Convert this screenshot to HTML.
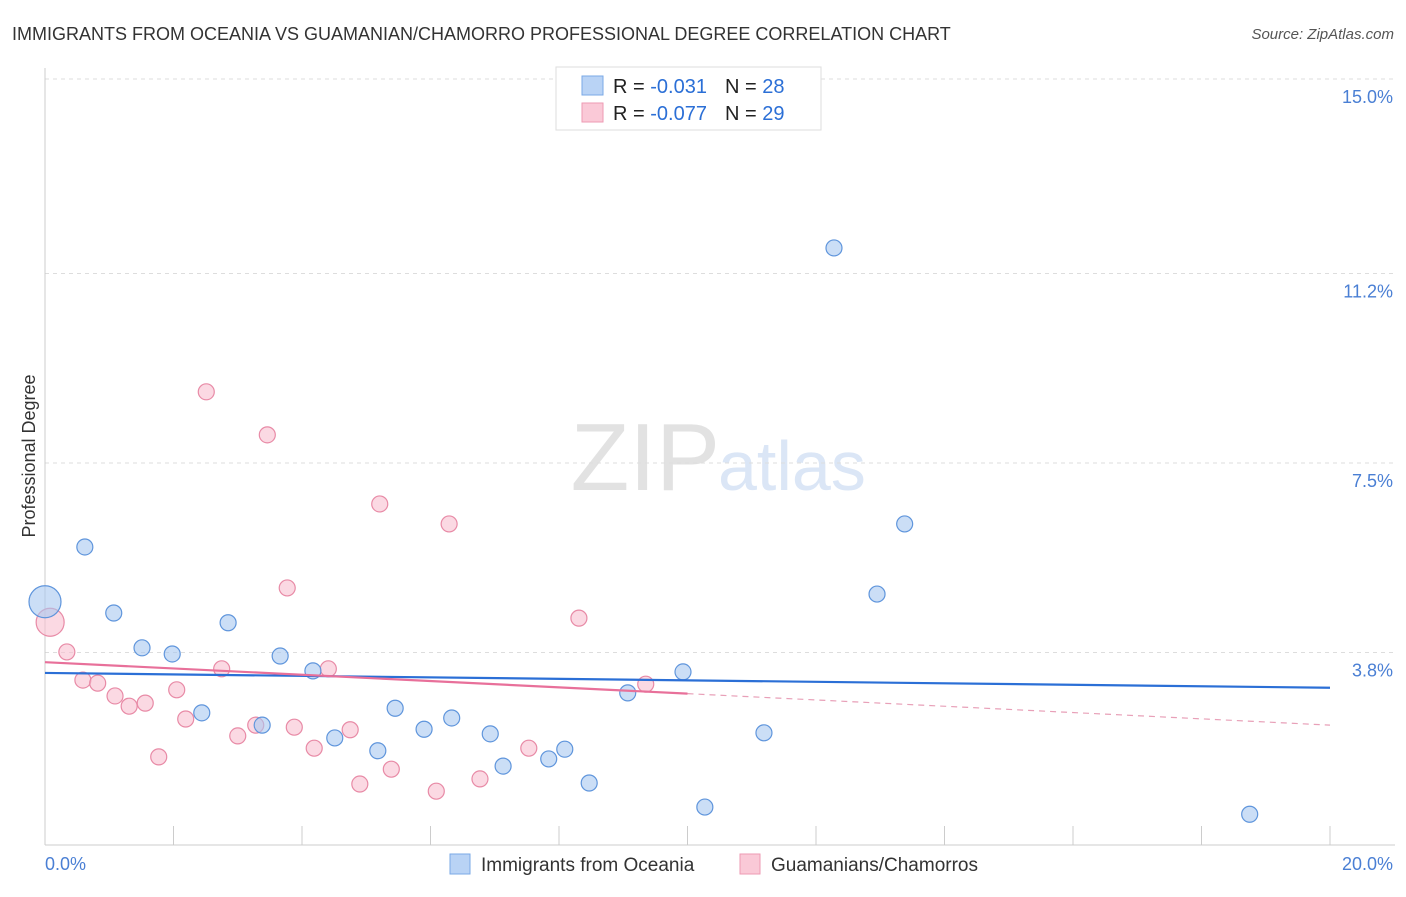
<!DOCTYPE html>
<html><head><meta charset="utf-8"><style>
body{margin:0;background:#fff;font-family:"Liberation Sans",sans-serif}
svg text{font-family:"Liberation Sans",sans-serif}
</style></head><body>
<svg id="c" width="1406" height="892" xmlns="http://www.w3.org/2000/svg">
<text x="12" y="40" font-size="18" fill="#333">IMMIGRANTS FROM OCEANIA VS GUAMANIAN/CHAMORRO PROFESSIONAL DEGREE CORRELATION CHART</text>
<text x="1394" y="39" font-size="15" fill="#555" font-style="italic" text-anchor="end">Source: ZipAtlas.com</text>
<text x="35" y="456" font-size="18" fill="#333" text-anchor="middle" transform="rotate(-90 35 456)">Professional Degree</text>
<text x="720" y="490" font-size="96" fill="#e2e2e2" text-anchor="end" font-family="Liberation Serif">ZIP</text>
<text x="718" y="490" font-size="70" fill="#dbe6f6">atlas</text>
<g id="grid"></g><g id="pts"></g><g id="lines"></g>
<g>
<rect x="556" y="67" width="265" height="63" fill="#fff" stroke="#ddd"/>
<rect x="582" y="76" width="21" height="19" fill="#b9d3f5" stroke="#7aa8e6"/>
<rect x="582" y="103" width="21" height="19" fill="#fac9d7" stroke="#ee9ab3"/>
<text x="613" y="93" font-size="20" fill="#222">R = <tspan fill="#2b6fd6"> -0.031</tspan><tspan dx="18">N = </tspan><tspan fill="#2b6fd6">28</tspan></text>
<text x="613" y="120" font-size="20" fill="#222">R = <tspan fill="#2b6fd6">-0.077</tspan><tspan dx="18">N = </tspan><tspan fill="#2b6fd6">29</tspan></text>
</g>
<g>
<rect x="450" y="854" width="20" height="20" fill="#b9d3f5" stroke="#7aa8e6"/>
<text x="481" y="871" font-size="19" fill="#333">Immigrants from Oceania</text>
<rect x="740" y="854" width="20" height="20" fill="#fac9d7" stroke="#ee9ab3"/>
<text x="771" y="871" font-size="19" fill="#333">Guamanians/Chamorros</text>
</g>
</svg>
<script>
const yTicks=[15.0,11.2,7.5,3.8];
const yTickLabels=["15.0%","11.2%","7.5%","3.8%"];
const xTickLabels=["0.0%","20.0%"];
const blueX=[0.00,0.62,1.07,1.51,1.98,2.85,2.44,3.38,3.66,4.17,4.51,5.18,5.45,5.90,6.33,6.93,7.13,7.84,8.09,8.47,9.07,9.93,10.27,11.19,12.28,12.95,13.38,18.75];
const blueY=[4.79,5.86,4.57,3.89,3.77,4.38,2.62,2.38,3.73,3.44,2.13,1.88,2.71,2.30,2.52,2.21,1.58,1.72,1.91,1.25,3.01,3.42,0.78,2.23,11.70,4.94,6.31,0.64];
const pinkX=[0.08,0.34,0.59,0.82,1.09,1.31,1.56,1.77,2.05,2.19,2.51,2.75,3.00,3.28,3.46,3.77,3.88,4.19,4.41,4.75,4.90,5.21,5.39,6.09,6.29,6.77,7.53,8.31,9.35];
const pinkY=[4.39,3.81,3.26,3.20,2.95,2.75,2.81,1.76,3.07,2.50,8.89,3.48,2.17,2.38,8.05,5.06,2.34,1.93,3.48,2.29,1.23,6.70,1.52,1.09,6.31,1.33,1.93,4.47,3.18];
const blueTrend=[3.40,3.11];
const pinkTrend=[3.61,2.38];
const NS="http://www.w3.org/2000/svg";
const X=v=>45+v/20*1285, Y=v=>847-v/3.75*192;
function mk(p,t,a){const e=document.createElementNS(NS,t);for(const k in a)e.setAttribute(k,a[k]);p.appendChild(e);return e;}
const g=document.getElementById('grid');
yTicks.forEach((t,i)=>{
 const l=mk(g,'line',{x1:45,x2:1395,y1:Y(t),y2:Y(t),stroke:'#ddd','stroke-dasharray':'4,4'});
 
 
 const tx=mk(g,'text',{x:1393,y:Y(t)+24,'font-size':18,fill:'#4a7fd4','text-anchor':'end'});tx.textContent=yTickLabels[i];
 
 
});
let ax=mk(g,'line',{x1:45,x2:45,y1:68,y2:845,stroke:'#ccc'});


ax=mk(g,'line',{x1:45,x2:1395,y1:845,y2:845,stroke:'#ccc'});


for(let i=1;i<=10;i++){const t=mk(g,'line',{x1:X(i*2),x2:X(i*2),y1:826,y2:845,stroke:'#ccc'});
 
 }
[[0,'start',45],[1,'end',1393]].forEach(([i,a,x])=>{const t=mk(g,'text',{x:x,y:870,'font-size':18,fill:'#4a7fd4','text-anchor':a});t.textContent=xTickLabels[i];
 
 });
const p=document.getElementById('pts');
function dots(xs,ys,fill,stroke,name){xs.forEach((v,i)=>{const c=mk(p,'circle',{cx:X(v),cy:Y(ys[i]),r:i==0?(name=='blue-point'?16:14):8,fill:fill,'fill-opacity':0.6,stroke:stroke,'stroke-width':1.2});
 
 });}
dots(pinkX,pinkY,'#f8c0d0','#e88aa6','pink-point');
dots(blueX,blueY,'#a9c8f0','#5f95dc','blue-point');
const L=document.getElementById('lines');
let ln=mk(L,'line',{x1:X(0),y1:Y(blueTrend[0]),x2:X(20),y2:Y(blueTrend[1]),stroke:'#2b6fd6','stroke-width':2.2});


const pm=(pinkTrend[0]+pinkTrend[1])/2;
ln=mk(L,'line',{x1:X(0),y1:Y(pinkTrend[0]),x2:X(10),y2:Y(pm),stroke:'#e8709a','stroke-width':2.2});


ln=mk(L,'line',{x1:X(10),y1:Y(pm),x2:X(20),y2:Y(pinkTrend[1]),stroke:'#e8a0b8','stroke-width':1.2,'stroke-dasharray':'6,5'});


</script>
</body></html>
